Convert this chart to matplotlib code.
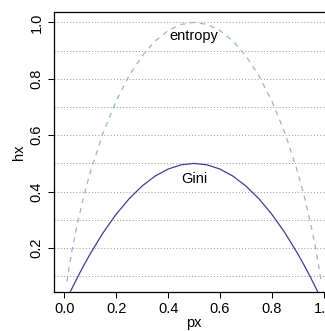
import matplotlib
matplotlib.use("Agg")
import matplotlib.pyplot as plt

px = [0.01, 0.02, 0.03, 0.05, 0.075, 0.1, 0.15, 0.2, 0.25, 0.3, 0.35, 0.4, 0.45, 0.5,
      0.55, 0.6, 0.65, 0.7, 0.75, 0.8, 0.85, 0.9, 0.925, 0.95, 0.97, 0.98, 0.99]
entropy = [0.0808, 0.1414, 0.1944, 0.2864, 0.3843, 0.4690, 0.6098, 0.7219, 0.8113, 0.8813,
           0.9341, 0.9710, 0.9928, 1.0000, 0.9928, 0.9710, 0.9341, 0.8813, 0.8113, 0.7219,
           0.6098, 0.4690, 0.3843, 0.2864, 0.1944, 0.1414, 0.0808]
gini = [0.0198, 0.0392, 0.0582, 0.0950, 0.1388, 0.1800, 0.2550, 0.3200, 0.3750, 0.4200,
        0.4550, 0.4800, 0.4950, 0.5000, 0.4950, 0.4800, 0.4550, 0.4200, 0.3750, 0.3200,
        0.2550, 0.1800, 0.1388, 0.0950, 0.0582, 0.0392, 0.0198]
grid_levels = [0.1, 0.2, 0.3, 0.4, 0.5, 0.6, 0.7, 0.8, 0.9, 1.0]
xticks = [0.0, 0.2, 0.4, 0.6, 0.8, 1.0]
yticks = [0.2, 0.4, 0.6, 0.8, 1.0]

plt.rcParams['font.family'] = ['Liberation Sans', 'DejaVu Sans']
FS = 10.5

fig = plt.figure(figsize=(3.25, 3.31), dpi=100)
ax = fig.add_axes([54/325, (331-292)/331, (334-54)/325, (292-12)/331])

for g in grid_levels:
    ax.axhline(g, color='#a0a0a0', linestyle=(0, (1, 2)), linewidth=0.75, zorder=1)

ax.plot(px, entropy, color='#9db0d6', linestyle=(0, (4, 4)), linewidth=0.9, zorder=2)
ax.plot(px, gini, color='#463a98', linewidth=0.9, zorder=3)

ax.text(0.5, 0.95, 'entropy', ha='center', va='center', fontsize=FS)
ax.text(0.5, 0.445, 'Gini', ha='center', va='center', fontsize=FS)

ax.set_xlim(-0.04, 1.04)
ax.set_ylim(0.0441, 1.0368)
ax.set_xticks(xticks)
ax.set_xticklabels([f'{v:.1f}' for v in xticks])
ax.set_yticks(yticks)
ax.set_yticklabels([f'{v:.1f}' for v in yticks])
ax.tick_params(axis='both', length=4, width=0.75, labelsize=FS, pad=3.5)
for lab in ax.get_yticklabels():
    lab.set_rotation(90)
    lab.set_va('center')

for s in ax.spines.values():
    s.set_linewidth(0.9)

ax.set_xlabel('px', fontsize=FS)
ax.set_ylabel('hx', fontsize=FS)
ax.xaxis.set_label_coords(0.5, -0.1, transform=None)
ax.xaxis.label.set_transform(fig.transFigure)
ax.xaxis.label.set_position(((54 + 334) / 2 / 325 - (334 - 325) / 325 / 2 + 0.0, (331 - 323) / 331))
ax.xaxis.label.set_va('center')
ax.yaxis.set_label_coords(19 / 325, (331 - 152) / 331, transform=fig.transFigure)
ax.yaxis.label.set_va('center')
ax.xaxis.set_label_coords(194 / 325, (331 - 323) / 331, transform=fig.transFigure)

fig.savefig('out.png', dpi=100)
